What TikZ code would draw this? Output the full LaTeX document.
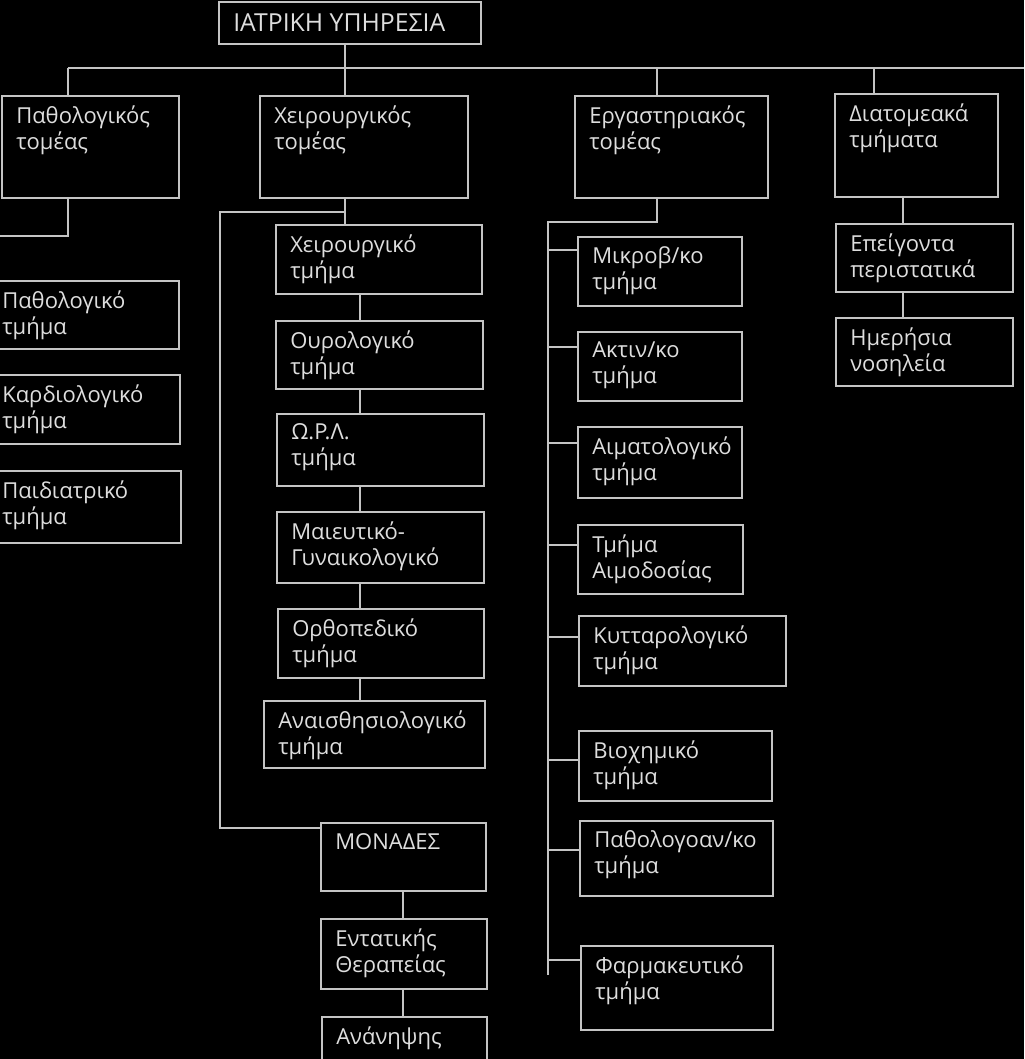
\documentclass[tikz,border=0pt]{standalone}
\usepackage{fontspec}
\setmainfont{Open Sans}

\definecolor{linegray}{HTML}{C4C4C4}
\definecolor{textgray}{HTML}{DEDEDE}

\tikzset{
  unitbox/.style = {draw = linegray, line width = 1.3pt, inner sep = 0pt, anchor = north west},
  deptext/.style = {text = textgray, inner sep = 0pt, anchor = north west, align = left,
    font = \fontsize{16.5}{20}\selectfont, execute at begin node = {\rule{0pt}{13pt}}},
  wire/.style = {draw = linegray, line width = 1.3pt},
}

\begin{document}
\begin{tikzpicture}[x = 0.75pt, y = -0.75pt]
  \def \width {1024};
  \def \height {1059};
  \def \busy {68};
  \def \surgx {360};
  \def \unitx {403};
  \def \labx {548};
  \def \intx {903};

  % Draw background.
  \fill[black] (0, 0) rectangle (\width, \height);
  \useasboundingbox (0, 0) rectangle (\width, \height);
  \clip (0, 0) rectangle (\width, \height);

  % Draw the head box.
  \node[unitbox, minimum width = 196.5pt, minimum height = 31.5pt] (service) at (218, 1) {};
  \node[deptext, font = \fontsize{18.6}{22}\selectfont] (service-txt) at ([xshift = 11.25pt, yshift = -9pt]service.north west) {ΙΑΤΡΙΚΗ ΥΠΗΡΕΣΙΑ};

  % Draw sector and department boxes.
  \foreach \name/\xa/\ya/\xb/\yb/\txt in {
    pathsec/1/95/178/197/{Παθολογικός\\τομέας},
    surgsec/259/95/467/197/{Χειρουργικός\\τομέας},
    labsec/574/95/767/197/{Εργαστηριακός\\τομέας},
    intsec/834/93/997/196/{Διατομεακά\\τμήματα},
    pathdep/-13/280/178/348/{Παθολογικό\\τμήμα},
    carddep/-13/374/179/443/{Καρδιολογικό\\τμήμα},
    paeddep/-13/470/180/542/{Παιδιατρικό\\τμήμα},
    surgdep/275/224/481/293/{Χειρουργικό\\τμήμα},
    urodep/275/320/482/388/{Ουρολογικό\\τμήμα},
    entdep/276/413/483/485/{Ω.Ρ.Λ.\\τμήμα},
    obgdep/276/511/483/582/{Μαιευτικό-\\Γυναικολογικό},
    orthdep/277/608/483/677/{Ορθοπεδικό\\τμήμα},
    anesdep/263/700/484/767/{Αναισθησιολογικό\\τμήμα},
    units/320/822/485/890/{ΜΟΝΑΔΕΣ},
    icudep/320/918/486/988/{Εντατικής\\Θεραπείας},
    recdep/321/1016/486/1075/{Ανάνηψης},
    microdep/577/236/741/305/{Μικροβ/κο\\τμήμα},
    raddep/577/331/741/400/{Ακτιν/κο\\τμήμα},
    haemdep/577/426/741/497/{Αιματολογικό\\τμήμα},
    blooddep/577/524/742/593/{Τμήμα\\Αιμοδοσίας},
    cytodep/578/615/785/685/{Κυτταρολογικό\\τμήμα},
    biodep/578/730/771/800/{Βιοχημικό\\τμήμα},
    pathadep/579/820/772/895/{Παθολογοαν/κο\\τμήμα},
    pharmdep/580/945/772/1029/{Φαρμακευτικό\\τμήμα},
    emerdep/835/223/1012/291/{Επείγοντα\\περιστατικά},
    daydep/835/317/1012/385/{Ημερήσια\\νοσηλεία}} {
    \pgfmathsetmacro{\w}{(\xb - (\xa)) * 0.75}
    \pgfmathsetmacro{\h}{(\yb - (\ya)) * 0.75}
    \node[unitbox, minimum width = \w pt, minimum height = \h pt] (\name) at (\xa, \ya) {};
    \node[deptext] (\name-txt) at ([xshift = 11.25pt, yshift = -7.5pt]\name.north west) {\txt};
  };

  % Draw the bus under the head box.
  \coordinate (busL) at (68, \busy);
  \coordinate (busR) at (1030, \busy);
  \draw[wire] (345, 0 |- service.south) -- (345, \busy);
  \draw[wire] (busL) -- (busR);
  \foreach \x/\n in {68/pathsec, 345/surgsec, 657/labsec, 874/intsec} {
    \draw[wire] (\x, \busy) -- (\x, 0 |- \n.north);
  };

  % Draw the medical sector branch.
  \coordinate (pathfree) at (-5, 236);
  \draw[wire] (68, 0 |- pathsec.south) |- (pathfree);

  % Draw the surgical sector branch.
  \coordinate (surgJ) at (345, 212);
  \coordinate (surgK) at (220, 212);
  \draw[wire] (345, 0 |- surgsec.south) -- (345, 0 |- surgdep.north);
  \draw[wire] (surgJ) -- (surgK) |- ([yshift = -4.5pt]units.north west);
  \foreach \a/\b in {surgdep/urodep, urodep/entdep, entdep/obgdep, obgdep/orthdep, orthdep/anesdep} {
    \draw[wire] (\surgx, 0 |- \a.south) -- (\surgx, 0 |- \b.north);
  };
  \foreach \a/\b in {units/icudep, icudep/recdep} {
    \draw[wire] (\unitx, 0 |- \a.south) -- (\unitx, 0 |- \b.north);
  };

  % Draw the laboratory sector branch.
  \coordinate (labK) at (\labx, 222);
  \coordinate (labE) at (\labx, 975);
  \draw[wire] (657, 0 |- labsec.south) |- (labK) -- (labE);
  \foreach \n/\ty in {microdep/250, raddep/347, haemdep/443, blooddep/545, cytodep/637, biodep/760, pathadep/850, pharmdep/960} {
    \draw[wire] (\labx, \ty) -- (\n.west |- 0, \ty);
  };

  % Draw the inter-sector branch.
  \foreach \a/\b in {intsec/emerdep, emerdep/daydep} {
    \draw[wire] (\intx, 0 |- \a.south) -- (\intx, 0 |- \b.north);
  };
\end{tikzpicture}
\end{document}
